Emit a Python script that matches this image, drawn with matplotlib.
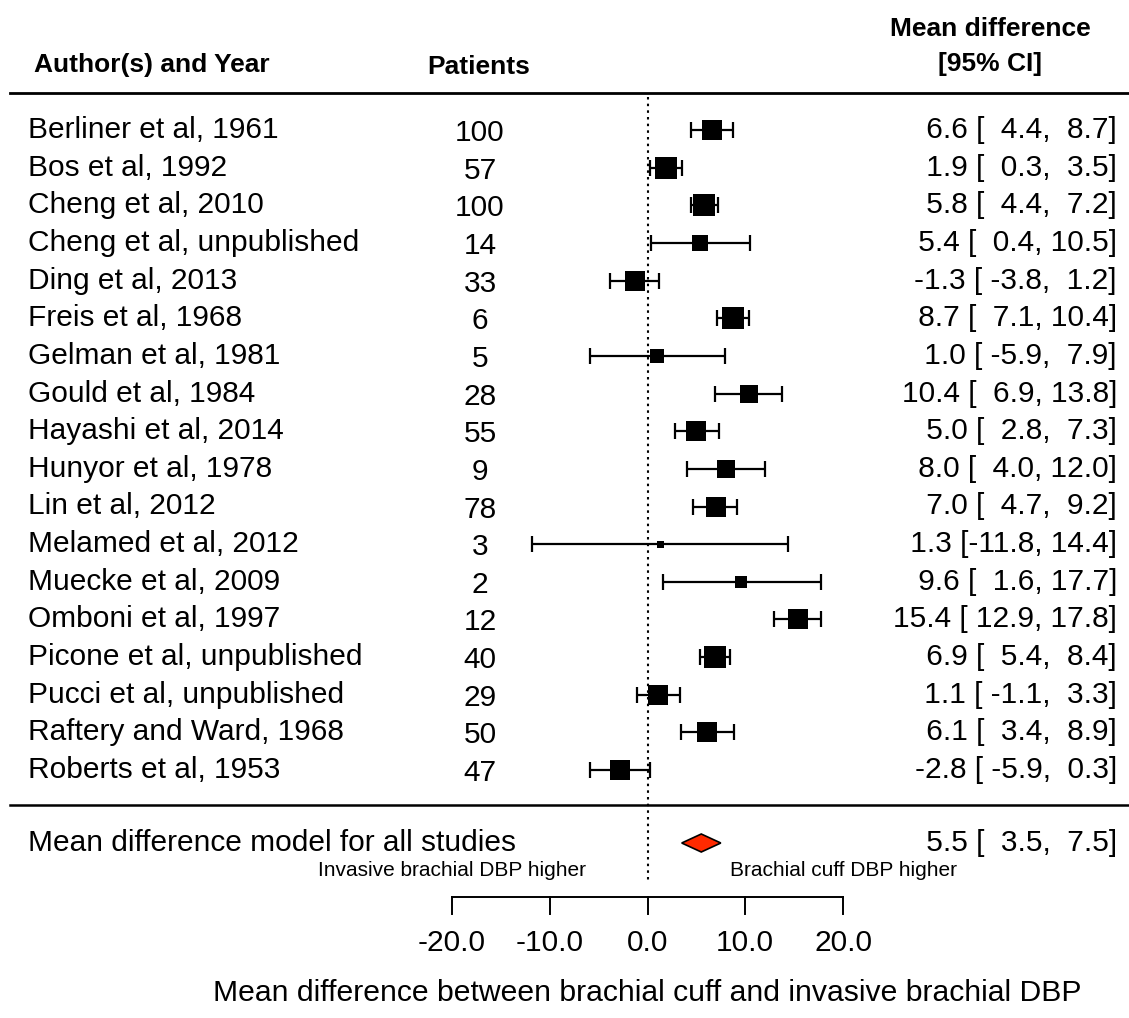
import numpy as np
import matplotlib.pyplot as plt

plt.rcParams['font.family'] = ['Liberation Sans', 'DejaVu Sans']

studies = ['Berliner et al, 1961', 'Bos et al, 1992', 'Cheng et al, 2010',
           'Cheng et al, unpublished', 'Ding et al, 2013', 'Freis et al, 1968',
           'Gelman et al, 1981', 'Gould et al, 1984', 'Hayashi et al, 2014',
           'Hunyor et al, 1978', 'Lin et al, 2012', 'Melamed et al, 2012',
           'Muecke et al, 2009', 'Omboni et al, 1997', 'Picone et al, unpublished',
           'Pucci et al, unpublished', 'Raftery and Ward, 1968', 'Roberts et al, 1953']
patients = [100, 57, 100, 14, 33, 6, 5, 28, 55, 9, 78, 3, 2, 12, 40, 29, 50, 47]
md = [6.6, 1.9, 5.8, 5.4, -1.3, 8.7, 1.0, 10.4, 5.0, 8.0, 7.0, 1.3, 9.6, 15.4, 6.9, 1.1, 6.1, -2.8]
ci_lo = [4.4, 0.3, 4.4, 0.4, -3.8, 7.1, -5.9, 6.9, 2.8, 4.0, 4.7, -11.8, 1.6, 12.9, 5.4, -1.1, 3.4, -5.9]
ci_hi = [8.7, 3.5, 7.2, 10.5, 1.2, 10.4, 7.9, 13.8, 7.3, 12.0, 9.2, 14.4, 17.7, 17.8, 8.4, 3.3, 8.9, 0.3]

summary_label = 'Mean difference model for all studies'
summary_md, summary_lo, summary_hi = 5.5, 3.5, 7.5
xticks = [-20, -10, 0, 10, 20]

md = np.array(md)
ci_lo = np.array(ci_lo)
ci_hi = np.array(ci_hi)

# figure laid out in pixel rows; x axis in effect units
W, H = 1129, 1018
x0_px, unit_px = 647.5, 9.775


def px(p):
    return (p - x0_px) / unit_px


fig = plt.figure(figsize=(W / 100, H / 100), dpi=100)
ax = fig.add_axes([0, 0, 1, 1])
ax.set_xlim(px(0), px(W))
ax.set_ylim(H, 0)
ax.axis('off')

row_y = 130 + 37.65 * np.arange(len(studies))
sum_y = 843

# random-effects style weights -> square size
se = (ci_hi - ci_lo) / 3.92
w = 1 / (se ** 2 + 15.0)
side_px = 7 + 14.5 * (w - w.min()) / (w.max() - w.min())

fs = 21.5
for i in range(len(studies)):
    y = row_y[i]
    ax.text(px(28), y, studies[i], fontsize=fs, ha='left', va='center')
    ax.text(px(480), y + 3, str(patients[i]), fontsize=fs, ha='center', va='center')
    txt = '%4.1f [%5.1f, %4.1f]' % (md[i], ci_lo[i], ci_hi[i])
    ax.text(px(1117), y, txt, fontsize=fs, ha='right', va='center')
    ax.errorbar(md[i], y, xerr=[[md[i] - ci_lo[i]], [ci_hi[i] - md[i]]], fmt='none',
                ecolor='black', elinewidth=1.6, capsize=6, capthick=1.6, zorder=3)
    ax.plot(md[i], y, marker='s', color='black', markersize=side_px[i] * 0.72,
            markeredgewidth=0, zorder=4)

# summary diamond
dh = 9
ax.fill([summary_lo, summary_md, summary_hi, summary_md],
        [sum_y, sum_y - dh, sum_y, sum_y + dh],
        facecolor='#ff2a00', edgecolor='black', linewidth=1.2, zorder=4)
ax.text(px(28), sum_y, summary_label, fontsize=fs, ha='left', va='center')
ax.text(px(1117), sum_y, '%4.1f [%5.1f, %4.1f]' % (summary_md, summary_lo, summary_hi),
        fontsize=fs, ha='right', va='center')

# reference line and separators
ax.plot([0, 0], [97, 883], color='black', linestyle=(0, (1.2, 2.0)), linewidth=1.5)
ax.plot([px(10), px(W)], [93, 93], color='black', linewidth=2)
ax.plot([px(10), px(W)], [805, 805], color='black', linewidth=1.8)

# headers
hfs = 19
ax.text(px(34), 65, 'Author(s) and Year', fontsize=hfs, fontweight='bold', ha='left', va='center')
ax.text(px(479), 67, 'Patients', fontsize=hfs, fontweight='bold', ha='center', va='center')
ax.text(px(990), 29, 'Mean difference', fontsize=hfs, fontweight='bold', ha='center', va='center')
ax.text(px(990), 64, '[95% CI]', fontsize=hfs, fontweight='bold', ha='center', va='center')

# bottom axis
ax.plot([xticks[0], xticks[-1]], [897, 897], color='black', linewidth=1.4)
for t in xticks:
    ax.plot([t, t], [897, 914], color='black', linewidth=1.4)
    ax.text(t, 943, '%.1f' % t, fontsize=fs, ha='center', va='center')

ax.text(-20, 870, 'Invasive brachial DBP higher', fontsize=15, ha='center', va='center')
ax.text(20, 870, 'Brachial cuff DBP higher', fontsize=15, ha='center', va='center')
ax.text(0, 993, 'Mean difference between brachial cuff and invasive brachial DBP',
        fontsize=21.7, ha='center', va='center')

fig.savefig('out.png', dpi=100)
